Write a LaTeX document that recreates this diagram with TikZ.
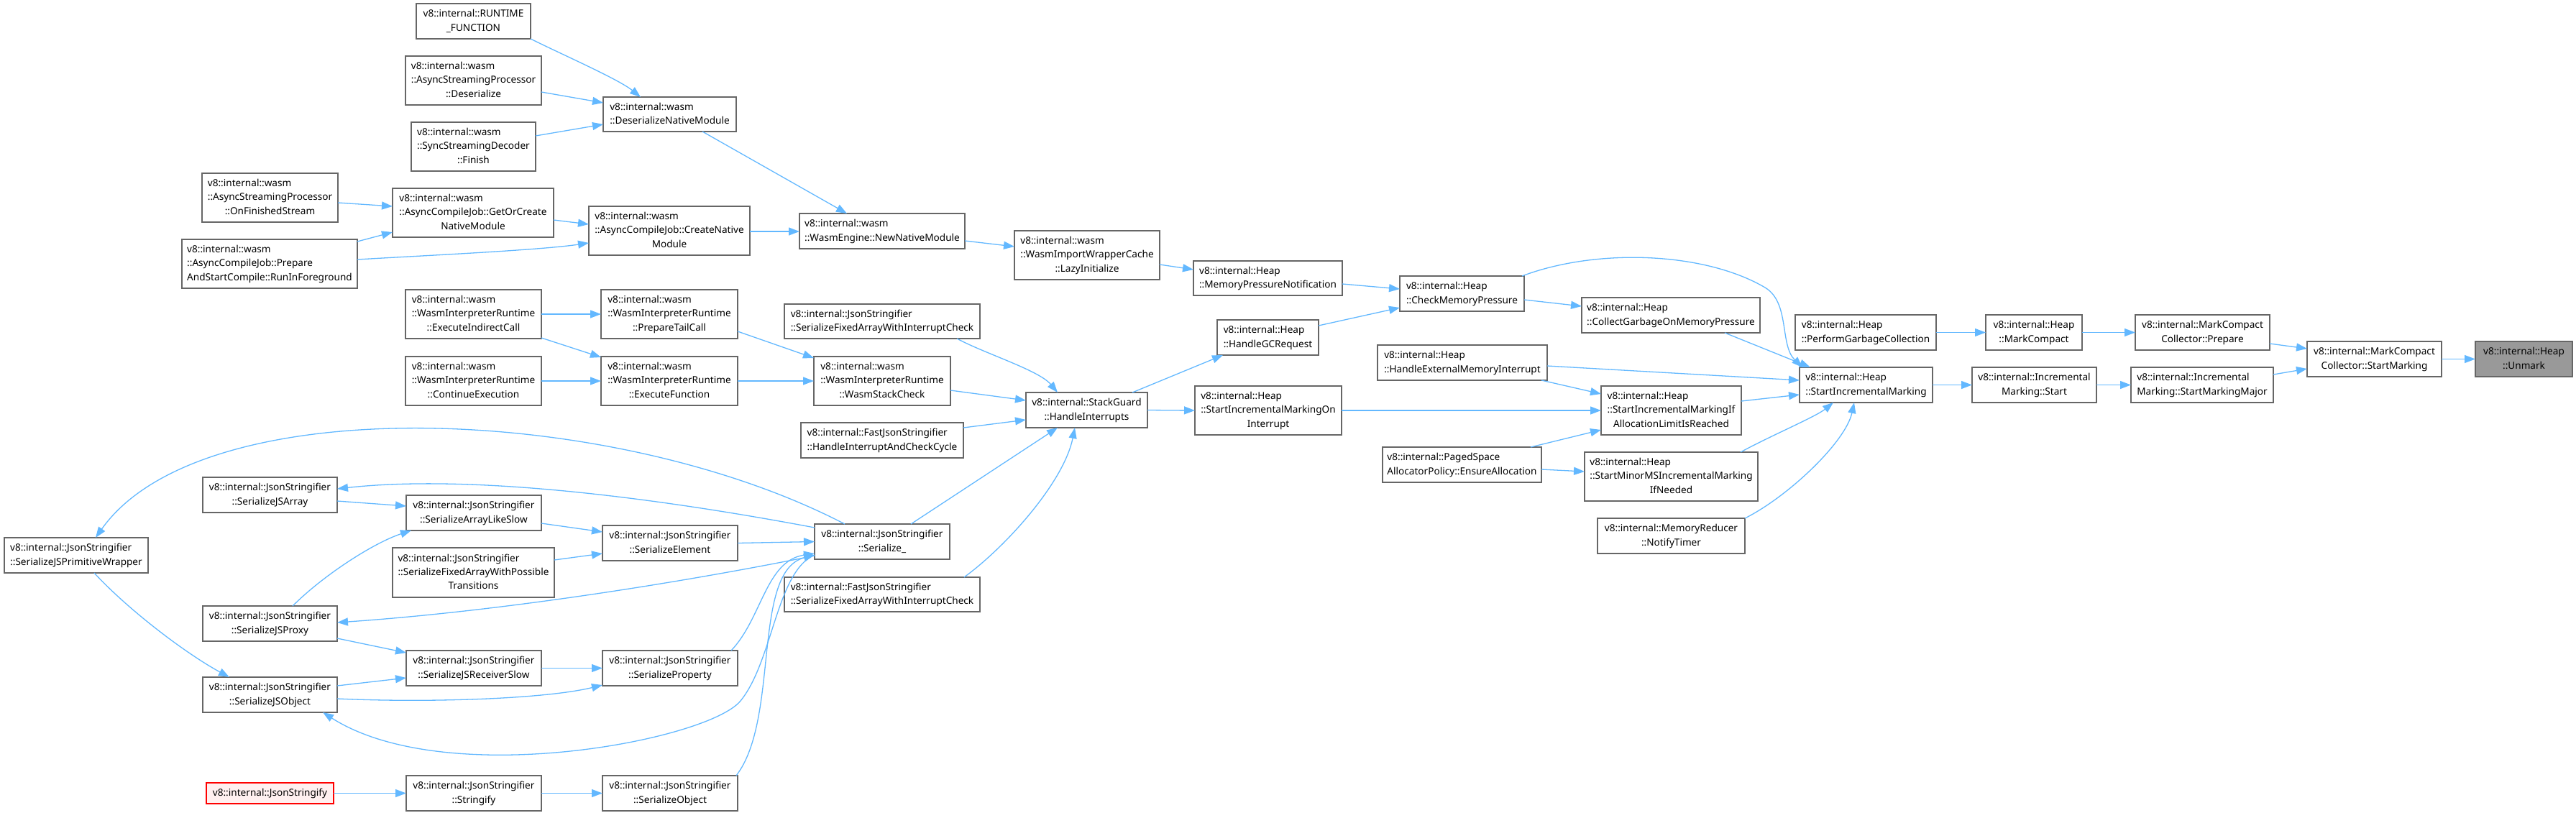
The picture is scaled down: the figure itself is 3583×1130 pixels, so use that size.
\documentclass[tikz,border=0pt]{standalone}
\usepackage{fontspec}
\setmainfont{Noto Sans}
\usetikzlibrary{arrows.meta}
\definecolor{edgec}{HTML}{63B8FF}
\definecolor{boxc}{HTML}{666666}
\definecolor{rootfill}{HTML}{999999}
\definecolor{redfill}{HTML}{FFF0F0}
\newcommand\lbl[2]{\begin{tabular}{@{}l@{}}#1\\\multicolumn{1}{@{}c@{}}{#2}\end{tabular}}
\newcommand\mybox[7][]{\node[box,#1,minimum width={(#5-#3)*1pt},minimum height={(#6-#4)*1pt}] (#2) at ({(#3+#5)/2},{(#4+#6)/2}) {#7};}
\begin{document}
\begin{tikzpicture}[x=1pt,y=-1pt,
  box/.style={draw=boxc,line width=1.5pt,fill=white,inner sep=0pt,outer sep=0pt,font=\fontsize{13.6}{19.3}\selectfont,text=black},
  cnx/.style={draw=edgec,line width=1.3pt,-{Triangle[length=15pt,width=11pt]}}]
\useasboundingbox (0,0) rectangle (3583,1130);
% nodes
\mybox{rf}{579}{5}{738}{54}{\lbl{v8::internal::RUNTIME}{\_FUNCTION}}
\mybox{aspd}{564}{78}{753}{146}{\lbl{v8::internal::wasm\\::AsyncStreamingProcessor}{::Deserialize}}
\mybox{ssdf}{572}{170}{745}{238}{\lbl{v8::internal::wasm\\::SyncStreamingDecoder}{::Finish}}
\mybox{dnm}{839}{135}{1024}{183}{\lbl{v8::internal::wasm}{::DeserializeNativeModule}}
\mybox{aspo}{281}{241}{470}{309}{\lbl{v8::internal::wasm\\::AsyncStreamingProcessor}{::OnFinishedStream}}
\mybox{goc}{546}{262}{770}{330}{\lbl{v8::internal::wasm\\::AsyncCompileJob::GetOrCreate}{NativeModule}}
\mybox{rif}{253}{333}{497}{401}{\lbl{v8::internal::wasm\\::AsyncCompileJob::Prepare}{AndStartCompile::RunInForeground}}
\mybox{cnm}{819}{287}{1043}{355}{\lbl{v8::internal::wasm\\::AsyncCompileJob::CreateNative}{Module}}
\mybox{nnm}{1112}{297}{1342}{346}{\lbl{v8::internal::wasm}{::WasmEngine::NewNativeModule}}
\mybox{lazy}{1411}{321}{1613}{389}{\lbl{v8::internal::wasm\\::WasmImportWrapperCache}{::LazyInitialize}}
\mybox{mpn}{1660}{363}{1867}{411}{\lbl{v8::internal::Heap}{::MemoryPressureNotification}}
\mybox{cmp}{1947}{384}{2120}{433}{\lbl{v8::internal::Heap}{::CheckMemoryPressure}}
\mybox{eic}{564}{403}{753}{471}{\lbl{v8::internal::wasm\\::WasmInterpreterRuntime}{::ExecuteIndirectCall}}
\mybox{ptc}{836}{403}{1026}{471}{\lbl{v8::internal::wasm\\::WasmInterpreterRuntime}{::PrepareTailCall}}
\mybox{ce}{564}{496}{753}{564}{\lbl{v8::internal::wasm\\::WasmInterpreterRuntime}{::ContinueExecution}}
\mybox{ef}{836}{496}{1026}{564}{\lbl{v8::internal::wasm\\::WasmInterpreterRuntime}{::ExecuteFunction}}
\mybox{jsfa}{1091}{423}{1363}{471}{\lbl{v8::internal::JsonStringifier}{::SerializeFixedArrayWithInterruptCheck}}
\mybox{wsc}{1132}{496}{1322}{564}{\lbl{v8::internal::wasm\\::WasmInterpreterRuntime}{::WasmStackCheck}}
\mybox{hicc}{1114}{588}{1340}{637}{\lbl{v8::internal::FastJsonStringifier}{::HandleInterruptAndCheckCycle}}
\mybox{hi}{1427}{546}{1596}{595}{\lbl{v8::internal::StackGuard}{::HandleInterrupts}}
\mybox{hgc}{1693}{445}{1834}{494}{\lbl{v8::internal::Heap}{::HandleGCRequest}}
\mybox{simoi}{1662}{537}{1866}{605}{\lbl{v8::internal::Heap\\::StartIncrementalMarkingOn}{Interrupt}}
\mybox{hemi}{1916}{480}{2152}{529}{\lbl{v8::internal::Heap}{::HandleExternalMemoryInterrupt}}
\mybox{ea}{1923}{622}{2144}{671}{\lbl{v8::internal::PagedSpace}{AllocatorPolicy::EnsureAllocation}}
\mybox{cgmp}{2200}{414}{2448}{463}{\lbl{v8::internal::Heap}{::CollectGarbageOnMemoryPressure}}
\mybox{simif}{2227}{537}{2422}{605}{\lbl{v8::internal::Heap\\::StartIncrementalMarkingIf}{AllocationLimitIsReached}}
\mybox{smms}{2204}{629}{2445}{697}{\lbl{v8::internal::Heap\\::StartMinorMSIncrementalMarking}{IfNeeded}}
\mybox{nt}{2222}{721}{2427}{770}{\lbl{v8::internal::MemoryReducer}{::NotifyTimer}}
\mybox{pgc}{2497}{438}{2693}{487}{\lbl{v8::internal::Heap}{::PerformGarbageCollection}}
\mybox{sim}{2503}{511}{2688}{560}{\lbl{v8::internal::Heap}{::StartIncrementalMarking}}
\mybox{mc}{2762}{438}{2896}{487}{\lbl{v8::internal::Heap}{::MarkCompact}}
\mybox{ims}{2743}{511}{2916}{560}{\lbl{v8::internal::Incremental}{Marking::Start}}
\mybox{prep}{2970}{438}{3157}{487}{\lbl{v8::internal::MarkCompact}{Collector::Prepare}}
\mybox{smm}{2964}{511}{3162}{560}{\lbl{v8::internal::Incremental}{Marking::StartMarkingMajor}}
\mybox{sm}{3209}{475}{3396}{524}{\lbl{v8::internal::MarkCompact}{Collector::StartMarking}}
\mybox[fill=rootfill]{unmark}{3443}{475}{3578}{524}{\lbl{v8::internal::Heap}{::Unmark}}
\mybox{sjpw}{6}{748}{206}{797}{\lbl{v8::internal::JsonStringifier}{::SerializeJSPrimitiveWrapper}}
\mybox{sja}{282}{664}{469}{713}{\lbl{v8::internal::JsonStringifier}{::SerializeJSArray}}
\mybox{als}{565}{689}{753}{738}{\lbl{v8::internal::JsonStringifier}{::SerializeArrayLikeSlow}}
\mybox{sel}{838}{731}{1026}{780}{\lbl{v8::internal::JsonStringifier}{::SerializeElement}}
\mybox{sfpt}{546}{762}{771}{831}{\lbl{v8::internal::JsonStringifier\\::SerializeFixedArrayWithPossible}{Transitions}}
\mybox{sjp}{282}{843}{469}{892}{\lbl{v8::internal::JsonStringifier}{::SerializeJSProxy}}
\mybox{sjrs}{565}{905}{753}{954}{\lbl{v8::internal::JsonStringifier}{::SerializeJSReceiverSlow}}
\mybox{sprop}{838}{905}{1026}{954}{\lbl{v8::internal::JsonStringifier}{::SerializeProperty}}
\mybox{sjo}{282}{942}{469}{991}{\lbl{v8::internal::JsonStringifier}{::SerializeJSObject}}
\mybox{ser}{1133}{729}{1321}{778}{\lbl{v8::internal::JsonStringifier}{::Serialize\_}}
\mybox{fjsfa}{1091}{803}{1363}{851}{\lbl{v8::internal::FastJsonStringifier}{::SerializeFixedArrayWithInterruptCheck}}
\mybox[draw=red,fill=redfill]{jsy}{287}{1089}{464}{1118}{v8::internal::JsonStringify}
\mybox{str}{565}{1079}{753}{1128}{\lbl{v8::internal::JsonStringifier}{::Stringify}}
\mybox{sobj}{838}{1079}{1026}{1128}{\lbl{v8::internal::JsonStringifier}{::SerializeObject}}
% via points of the two long bends
\coordinate (via14) at (2455,400);
\coordinate (via58) at (1030,975);
% edges
\draw[cnx] (rf.south east) .. controls +(42,21) and +(-31,-25) .. ([shift={(52,0)}]dnm.north west);
\draw[cnx] ([shift={(189,50)}]aspd.north west) -- ([shift={(0,8)}]dnm.north west);
\draw[cnx] ([shift={(173,19)}]ssdf.north west) -- ([shift={(0,38)}]dnm.north west);
\draw[cnx] ([shift={(138,48)}]dnm.north west) -- ([shift={(66,0)}]nnm.north west);
\draw[cnx] ([shift={(189,41)}]aspo.north west) -- ([shift={(0,25)}]goc.north west);
\draw[cnx] ([shift={(244,3)}]rif.north west) -- ([shift={(0,61)}]goc.north west);
\draw[cnx] ([shift={(244,28)}]rif.north west) .. controls +(103,-6) and +(-69,10) .. ([shift={(0,51)}]cnm.north west);
\draw[cnx] ([shift={(224,44)}]goc.north west) -- ([shift={(0,25)}]cnm.north west);
\draw[cnx] ([shift={(224,35)}]cnm.north west) -- ([shift={(0,25)}]nnm.north west);
\draw[cnx] ([shift={(230,38)}]nnm.north west) -- ([shift={(0,22)}]lazy.north west);
\draw[cnx] ([shift={(202,47)}]lazy.north west) -- ([shift={(0,12)}]mpn.north west);
\draw[cnx] ([shift={(207,32)}]mpn.north west) -- ([shift={(0,18)}]cmp.north west);
\draw[cnx] ([shift={(141,8)}]hgc.north west) -- ([shift={(0,44)}]cmp.north west);
\draw[cnx] ([shift={(170,0)}]cmp.north west) .. controls +(103,-39) and +(-85,-50) .. (via14)
   .. controls +(35,21) and +(-32,-31) .. ([shift={(4,0)}]sim.north west);
\draw[cnx] ([shift={(173,33)}]cmp.north west) -- ([shift={(0,12)}]cgmp.north west);
\draw[cnx] ([shift={(199,49)}]cgmp.north west) -- ([shift={(15,0)}]sim.north west);
\draw[cnx] ([shift={(236,29)}]hemi.north west) -- ([shift={(0,18)}]sim.north west);
\draw[cnx] ([shift={(228,49)}]hemi.north west) -- ([shift={(0,11)}]simif.north west);
\draw[cnx] ([shift={(204,34)}]simoi.north west) -- ([shift={(0,34)}]simif.north west);
\draw[cnx] ([shift={(206,0)}]ea.north west) -- ([shift={(0,61)}]simif.north west);
\draw[cnx] ([shift={(221,31)}]ea.north west) -- ([shift={(0,27)}]smms.north west);
\draw[cnx] ([shift={(195,21)}]simif.north west) -- ([shift={(0,38)}]sim.north west);
\draw[cnx] ([shift={(217,0)}]smms.north west) .. controls +(40,-22) and +(-25,20) .. ([shift={(47,49)}]sim.north west);
\draw[cnx] ([shift={(205,0)}]nt.north west) .. controls +(60,-30) and +(-12,55) .. ([shift={(76,49)}]sim.north west);
\draw[cnx] (pgc.east) -- (mc.west);
\draw[cnx] (mc.east) -- (prep.west);
\draw[cnx] ([shift={(187,40)}]prep.north west) -- ([shift={(0,10)}]sm.north west);
\draw[cnx] (sim.east) -- (ims.west);
\draw[cnx] (ims.east) -- (smm.west);
\draw[cnx] ([shift={(198,10)}]smm.north west) -- ([shift={(0,38)}]sm.north west);
\draw[cnx] (sm.east) -- (unmark.west);
\draw[cnx] (eic.east) -- (ptc.west);
\draw[cnx] ([shift={(189,67)}]eic.north west) -- ([shift={(0,1)}]ef.north west);
\draw[cnx] (ce.east) -- (ef.west);
\draw[cnx] ([shift={(190,58)}]ptc.north west) -- ([shift={(0,2)}]wsc.north west);
\draw[cnx] (ef.east) -- (wsc.west);
\draw[cnx] ([shift={(240,48)}]jsfa.north west) .. controls +(39,21) and +(-26,-31) .. ([shift={(44,0)}]hi.north west);
\draw[cnx] ([shift={(190,47)}]wsc.north west) -- ([shift={(0,11)}]hi.north west);
\draw[cnx] ([shift={(226,7)}]hicc.north west) -- ([shift={(0,38)}]hi.north west);
\draw[cnx] ([shift={(134,0)}]ser.north west) -- ([shift={(44,49)}]hi.north west);
\draw[cnx] ([shift={(250,0)}]fjsfa.north west) .. controls +(59,-43) and +(-15,75) .. ([shift={(68,49)}]hi.north west);
\draw[cnx] ([shift={(148,0)}]hi.north west) -- ([shift={(8,49)}]hgc.north west);
\draw[cnx] (hi.east) -- (simoi.west);
\draw[cnx] ([shift={(42,0)}]ser.north west) .. controls +(-325,-169) and +(147,-208) .. ([shift={(127,0)}]sjpw.north west);
\draw[cnx] ([shift={(0,5)}]ser.north west) .. controls +(-233,-44) and +(181,-20) .. ([shift={(187,16)}]sja.north west);
\draw[cnx] ([shift={(187,33)}]sja.north west) -- ([shift={(0,15)}]als.north west);
\draw[cnx] ([shift={(188,39)}]als.north west) -- ([shift={(0,9)}]sel.north west);
\draw[cnx] ([shift={(225,17)}]sfpt.north west) -- ([shift={(0,39)}]sel.north west);
\draw[cnx] (sel.east) -- (ser.west);
\draw[cnx] ([shift={(0,44)}]ser.north west) .. controls +(-183,37) and +(231,-16) .. ([shift={(187,23)}]sjp.north west);
\draw[cnx] ([shift={(125,0)}]sjp.north west) .. controls +(43,-43) and +(-52,17) .. ([shift={(7,49)}]als.north west);
\draw[cnx] ([shift={(187,45)}]sjp.north west) -- ([shift={(0,3)}]sjrs.north west);
\draw[cnx] ([shift={(125,49)}]sjpw.north west) .. controls +(49,53) and +(-59,-32) .. ([shift={(37,0)}]sjo.north west);
\draw[cnx] ([shift={(187,12)}]sjo.north west) -- ([shift={(0,38)}]sjrs.north west);
\draw[cnx] ([shift={(187,30)}]sjo.north west) .. controls +(131,6) and +(-78,19) .. ([shift={(0,48)}]sprop.north west);
\draw[cnx] (sjrs.east) -- (sprop.west);
\draw[cnx] ([shift={(179,0)}]sprop.north west) .. controls +(43,-45) and +(-68,10) .. ([shift={(0,41)}]ser.north west);
\draw[cnx] ([shift={(0,43)}]ser.north west) .. controls +(-53,23) and +(45,-55) .. (via58)
   .. controls +(-45,55) and +(171,109) .. ([shift={(167,49)}]sjo.north west);
\draw[cnx] (jsy.east) -- (str.west);
\draw[cnx] (str.east) -- (sobj.west);
\draw[cnx] ([shift={(186,0)}]sobj.north west) .. controls +(61,-79) and +(-88,23) .. ([shift={(0,43)}]ser.north west);
\end{tikzpicture}
\end{document}
